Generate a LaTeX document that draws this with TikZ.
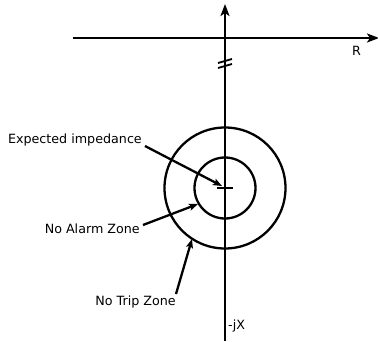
\documentclass[tikz,border=0pt]{standalone}
\usepackage{fontspec}
\setmainfont{DejaVu Sans}
\usetikzlibrary{arrows.meta}
\begin{document}
\begin{tikzpicture}[x=1pt,y=-1pt,
  ln/.style={line width=2.3pt},
  arr/.style={ln,-{Stealth[length=12pt,width=9pt,inset=3pt]}},
  sarr/.style={ln,-{Stealth[length=9pt,width=7pt,inset=2pt]}},
  lbl/.style={font=\fontsize{12.7}{15}\selectfont, inner sep=0pt}]
\useasboundingbox (0,0) rectangle (378,341);
\coordinate (vbot) at (225,341);
\coordinate (vtop) at (225,4);
\coordinate (hl) at (73,38);
\coordinate (hr) at (379,38);
\coordinate (c) at (225,188);
\draw[arr] (vbot) -- (vtop);
\draw[arr] (hl) -- (hr);
\draw[line width=1.8pt] (218,63) -- (232,59);
\draw[line width=1.8pt] (218,68) -- (232,64);
\draw[ln] (c) circle[radius=60.5];
\draw[ln] (c) circle[radius=30.5];
\draw[ln] (217,188) -- (233,188);
\node[lbl,anchor=east] (ei) at (142,140) {Expected impedance};
\node[lbl,anchor=east] (na) at (140,229) {No Alarm Zone};
\node[lbl,anchor=east] (nt) at (176,302) {No Trip Zone};
\node[lbl,anchor=west] (r) at (352,51) {R};
\node[lbl,anchor=west] (jx) at (228,326) {-jX};
\coordinate (eit) at (222,186);
\coordinate (nat) at (198,204);
\coordinate (ntt) at (192,239);
\draw[sarr] (145,146) -- (eit);
\draw[sarr] (143,225) -- (nat);
\draw[sarr] (176,294) -- (ntt);
\end{tikzpicture}
\end{document}
